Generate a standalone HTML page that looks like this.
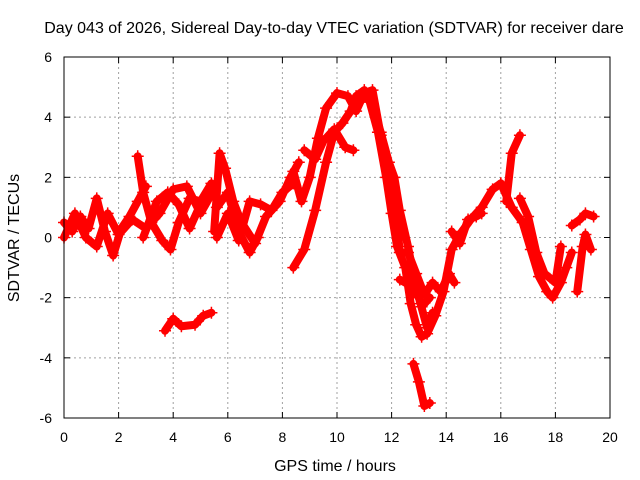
<!DOCTYPE html>
<html><head><meta charset="utf-8"><style>
body{margin:0;background:#fff}
svg{display:block;font-family:"Liberation Sans",sans-serif}
</style></head><body>
<svg id="chart" width="640" height="480" viewBox="0 0 640 480">
<rect width="640" height="480" fill="#fff"/>
<text x="334" y="33" text-anchor="middle" font-size="16">Day 043 of 2026, Sidereal Day-to-day VTEC variation (SDTVAR) for receiver dare</text>
<text x="335" y="471" text-anchor="middle" font-size="16">GPS time / hours</text>
<text transform="translate(19,238) rotate(-90)" text-anchor="middle" font-size="16">SDTVAR / TECUs</text>
<g id="grid"></g><g id="ticks"></g><g id="marks"></g>
<rect x="64" y="57" width="546" height="361" fill="none" stroke="#000" stroke-width="1"/>
</svg>
<script>
const xTicks=[0,2,4,6,8,10,12,14,16,18,20];
const yTicks=[-6,-4,-2,0,2,4,6];
const trackA=[[0,0.5],[0.3,0.2],[0.6,0.7],[0.9,0.3],[1.2,1.3],[1.5,0.2],[1.8,-0.6],[2.1,0.3],[2.4,0.7],[2.7,1.2],[3,1.7]];
const trackB=[[0,0],[0.4,0.8],[0.8,0],[1.2,-0.3],[1.6,0.8],[2,0.1],[2.5,0.6],[3,0.3],[3.5,0.8],[4,1.6],[4.5,1.7],[5,0.8],[5.5,1.6]];
const trackC=[[2.7,2.7],[2.9,1.5],[3.2,0.5],[3.6,-0.1],[3.9,-0.4],[4.2,0.5],[4.6,1.3],[5,1.2],[5.4,1.8]];
const trackD=[[2.9,0],[3.4,1.2],[3.8,1.5],[4.2,1.1],[4.6,0.3],[5,1.1]];
const trackE=[[3.7,-3.1],[4,-2.7],[4.3,-2.95],[4.8,-2.9],[5.1,-2.6],[5.4,-2.5]];
const trackF=[[5.5,0.2],[5.7,2.8],[5.9,2.3],[6.2,1.2],[6.5,0.5],[7,-0.2],[7.4,0.7],[7.9,1.2],[8.3,2],[8.6,2.5]];
const trackG=[[5.6,0],[6,0.8],[6.4,-0.1],[6.8,1.2],[7.2,1.1],[7.6,0.9],[8,1.5],[8.4,1.8]];
const trackH=[[5.6,1],[6,1.5],[6.4,0.2],[6.8,-0.5],[7.1,0]];
const trackI=[[8.4,-1],[8.8,-0.4],[9.2,0.9],[9.6,2.5],[9.9,3.5],[10.2,3.8],[10.5,4.2],[10.7,4.7],[11,4.9],[11.2,4.5],[11.5,3.5],[11.8,2],[12,0.8],[12.2,-0.3],[12.5,-1],[12.7,-2.2],[12.9,-2.9],[13.1,-3.3],[13.3,-3.2],[13.6,-2.6],[13.9,-1.8],[14.2,-0.4],[14.5,0.1],[14.9,0.6],[15.3,1.0],[15.7,1.6],[16,1.8]];
const trackJ=[[8.4,2.2],[8.7,1.2],[9,2.0],[9.3,3.3],[9.6,4.3],[10,4.8],[10.4,4.7],[10.7,4.2],[11,4.8],[11.3,4.9],[11.6,3.4],[11.9,2.0],[12.1,1.5],[12.3,-0.5],[12.6,-0.5],[12.9,-1.2],[13.2,-1.9],[13.5,-1.5],[13.8,-1.8],[14.1,-1.2],[14.3,-1.5]];
const trackK=[[8.8,2.9],[9.2,2.6],[9.5,3.2],[9.9,3.6],[10.3,3.0],[10.6,2.9]];
const trackL=[[11.2,4.7],[11.6,3.5],[11.9,2.5],[12.1,2.0],[12.3,0.9],[12.6,-0.3],[12.9,-1.7],[13.1,-2.3],[13.4,-2.0]];
const trackM=[[12.3,-1.4],[12.7,-1.6],[13,-2.0],[13.3,-3.0],[13.5,-2.5]];
const trackN=[[12.8,-4.2],[13,-4.8],[13.2,-5.6],[13.4,-5.5]];
const trackO=[[16.2,1.2],[16.4,2.8],[16.7,3.4]];
const trackP=[[16,1.8],[16.4,1.0],[16.8,0.5],[17.1,-0.4],[17.4,-1.3],[17.7,-1.8],[17.9,-2.0],[18.2,-1.5],[18.4,-1.0],[18.6,-0.5]];
const trackQ=[[16.7,1.3],[17,0.7],[17.3,-0.5],[17.6,-1.2],[18,-1.5],[18.2,-0.3]];
const trackR=[[18.8,-1.8],[19,-0.3],[19.1,0.1],[19.3,-0.4]];
const trackS=[[18.6,0.4],[18.9,0.6],[19.1,0.8],[19.4,0.7]];
const trackT=[[14.2,0.2],[14.5,-0.2],[14.8,0.6],[15.1,0.7],[15.3,0.8]];
const tracks=[trackA,trackB,trackC,trackD,trackE,trackF,trackG,trackH,trackI,trackJ,trackK,trackL,trackM,trackN,trackO,trackP,trackQ,trackR,trackS,trackT];

const NS='http://www.w3.org/2000/svg';
const X0=64,X1=610,Y0=418,Y1=57;
function xs(v){return X0+(v-0)/(20-0)*(X1-X0);}
function ys(v){return Y0-(v+6)/12*(Y0-Y1);}
function mk(tag,attrs,parent){const e=document.createElementNS(NS,tag);for(const k in attrs)e.setAttribute(k,attrs[k]);parent.appendChild(e);return e;}
const grid=document.getElementById('grid'),ticks=document.getElementById('ticks'),marks=document.getElementById('marks');
xTicks.forEach(t=>{
  const x=xs(t);
  if(t>0&&t<20){const g=mk('line',{x1:x,x2:x,y1:Y1,y2:Y0,stroke:'#a0a0a0','stroke-dasharray':'2,3'},grid);
  
  }
  mk('line',{x1:x,x2:x,y1:Y0,y2:Y0-6,stroke:'#000'},ticks);
  mk('line',{x1:x,x2:x,y1:Y1,y2:Y1+6,stroke:'#000'},ticks);
  const l=mk('text',{x:x,y:442,'text-anchor':'middle','font-size':'14'},ticks);l.textContent=t;
  
  
});
yTicks.forEach(t=>{
  const y=ys(t);
  if(t>-6&&t<6){const g=mk('line',{x1:X0,x2:X1,y1:y,y2:y,stroke:'#a0a0a0','stroke-dasharray':'2,3'},grid);
  
  }
  mk('line',{x1:X0,x2:X0+6,y1:y,y2:y,stroke:'#000'},ticks);
  mk('line',{x1:X1,x2:X1-6,y1:y,y2:y,stroke:'#000'},ticks);
  const l=mk('text',{x:52,y:y+5,'text-anchor':'end','font-size':'14'},ticks);l.textContent=t;
  
  
});
tracks.forEach((tr,i)=>{
  const p=mk('polyline',{points:tr.map(d=>xs(d[0])+','+ys(d[1])).join(' '),fill:'none',stroke:'#ff0000','stroke-width':'8','stroke-linejoin':'round','stroke-linecap':'round'},marks);
  
  
  tr.forEach(d=>{
    const x=xs(d[0]),y=ys(d[1]);
    const m=mk('path',{d:`M${x-6},${y}H${x+6}M${x},${y-6}V${y+6}`,stroke:'#ff0000','stroke-width':'1.5'},marks);
    
    
  });
});
</script>
</body></html>
